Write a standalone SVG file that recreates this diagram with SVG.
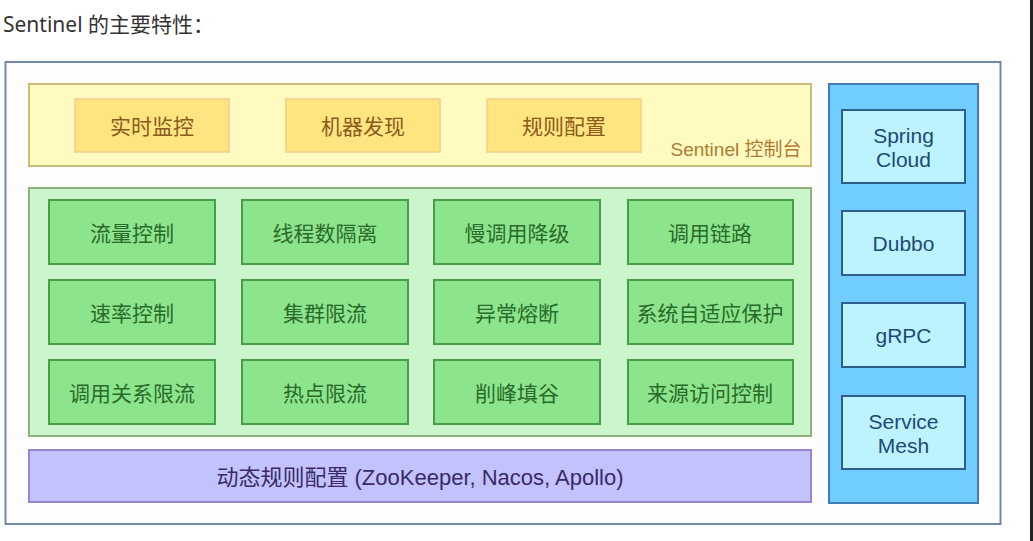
<svg xmlns="http://www.w3.org/2000/svg" width="1033" height="541" viewBox="0 0 1033 541">
<style>
text{font-family:"Liberation Sans","Noto Sans CJK SC",sans-serif;dominant-baseline:central;text-anchor:middle}
.title{font-family:"Noto Sans","Noto Sans CJK SC",sans-serif;text-anchor:start;font-size:21px;fill:#333}
.ypanel{fill:#fffbc0;stroke:#c9bd77;stroke-width:2}
.ybox{fill:#ffe57f;stroke:#f6cd8a;stroke-width:1.5}
.ytxt{font-size:21px;fill:#8a5a1e}
.gpanel{fill:#cdf5cd;stroke:#8fb37e;stroke-width:2}
.gbox{fill:#8ce58c;stroke:#4a9e4a;stroke-width:2}
.gtxt{font-size:21px;fill:#2a6a2a}
.ppanel{fill:#c2c2fc;stroke:#9b85cf;stroke-width:2}
.ptxt{font-size:22px;fill:#3a2a6a}
.bpanel{fill:#70cdfe;stroke:#3f7dbb;stroke-width:2}
.bbox{fill:#bdf3fe;stroke:#2e5e8e;stroke-width:2}
.btxt{font-size:21px;fill:#1e4a78}
</style>
<rect width="1033" height="541" fill="#ffffff"/>
<rect x="1030" y="0" width="3" height="541" fill="#222"/>
<text class="title" x="3" y="24">Sentinel 的主要特性：</text>
<rect x="5.5" y="62" width="995" height="462" fill="#fdfdfd" stroke="#7288aa" stroke-width="2"/>

<g id="console">
<rect class="ypanel" x="29" y="84" width="782" height="82"/>
<text x="736" y="149" style="font-size:19px;fill:#b07a35">Sentinel 控制台</text>
</g>
<g id="n-monitor"><rect class="ybox" x="75" y="99" width="154" height="53"/><text class="ytxt" x="152" y="126">实时监控</text></g>
<g id="n-discover"><rect class="ybox" x="286" y="99" width="154" height="53"/><text class="ytxt" x="363" y="126">机器发现</text></g>
<g id="n-rules"><rect class="ybox" x="487" y="99" width="154" height="53"/><text class="ytxt" x="564" y="126">规则配置</text></g>

<g id="core"><rect class="gpanel" x="29" y="188" width="782" height="248"/></g>
<g id="g1"><rect class="gbox" x="49" y="200" width="166" height="64"/><text class="gtxt" x="132" y="233">流量控制</text></g>
<g id="g2"><rect class="gbox" x="242" y="200" width="166" height="64"/><text class="gtxt" x="325" y="233">线程数隔离</text></g>
<g id="g3"><rect class="gbox" x="434" y="200" width="166" height="64"/><text class="gtxt" x="517" y="233">慢调用降级</text></g>
<g id="g4"><rect class="gbox" x="628" y="200" width="165" height="64"/><text class="gtxt" x="710" y="233">调用链路</text></g>
<g id="g5"><rect class="gbox" x="49" y="280" width="166" height="64"/><text class="gtxt" x="132" y="313">速率控制</text></g>
<g id="g6"><rect class="gbox" x="242" y="280" width="166" height="64"/><text class="gtxt" x="325" y="313">集群限流</text></g>
<g id="g7"><rect class="gbox" x="434" y="280" width="166" height="64"/><text class="gtxt" x="517" y="313">异常熔断</text></g>
<g id="g8"><rect class="gbox" x="628" y="280" width="165" height="64"/><text class="gtxt" x="710" y="313">系统自适应保护</text></g>
<g id="g9"><rect class="gbox" x="49" y="360" width="166" height="64"/><text class="gtxt" x="132" y="393">调用关系限流</text></g>
<g id="g10"><rect class="gbox" x="242" y="360" width="166" height="64"/><text class="gtxt" x="325" y="393">热点限流</text></g>
<g id="g11"><rect class="gbox" x="434" y="360" width="166" height="64"/><text class="gtxt" x="517" y="393">削峰填谷</text></g>
<g id="g12"><rect class="gbox" x="628" y="360" width="165" height="64"/><text class="gtxt" x="710" y="393">来源访问控制</text></g>

<g id="dynamic"><rect class="ppanel" x="29" y="450" width="782" height="52"/><text class="ptxt" x="420" y="477">动态规则配置 (ZooKeeper, Nacos, Apollo)</text></g>

<g id="adapters"><rect class="bpanel" x="829" y="84" width="149" height="419"/></g>
<g id="b1"><rect class="bbox" x="842" y="110" width="123" height="73"/><text class="btxt" x="903.5" y="135">Spring</text><text class="btxt" x="903.5" y="159">Cloud</text></g>
<g id="b2"><rect class="bbox" x="842" y="211" width="123" height="64"/><text class="btxt" x="903.5" y="243">Dubbo</text></g>
<g id="b3"><rect class="bbox" x="842" y="303" width="123" height="64"/><text class="btxt" x="903.5" y="335">gRPC</text></g>
<g id="b4"><rect class="bbox" x="842" y="396" width="123" height="73"/><text class="btxt" x="903.5" y="421">Service</text><text class="btxt" x="903.5" y="445">Mesh</text></g>
<g id="connectors"></g>
</svg>
